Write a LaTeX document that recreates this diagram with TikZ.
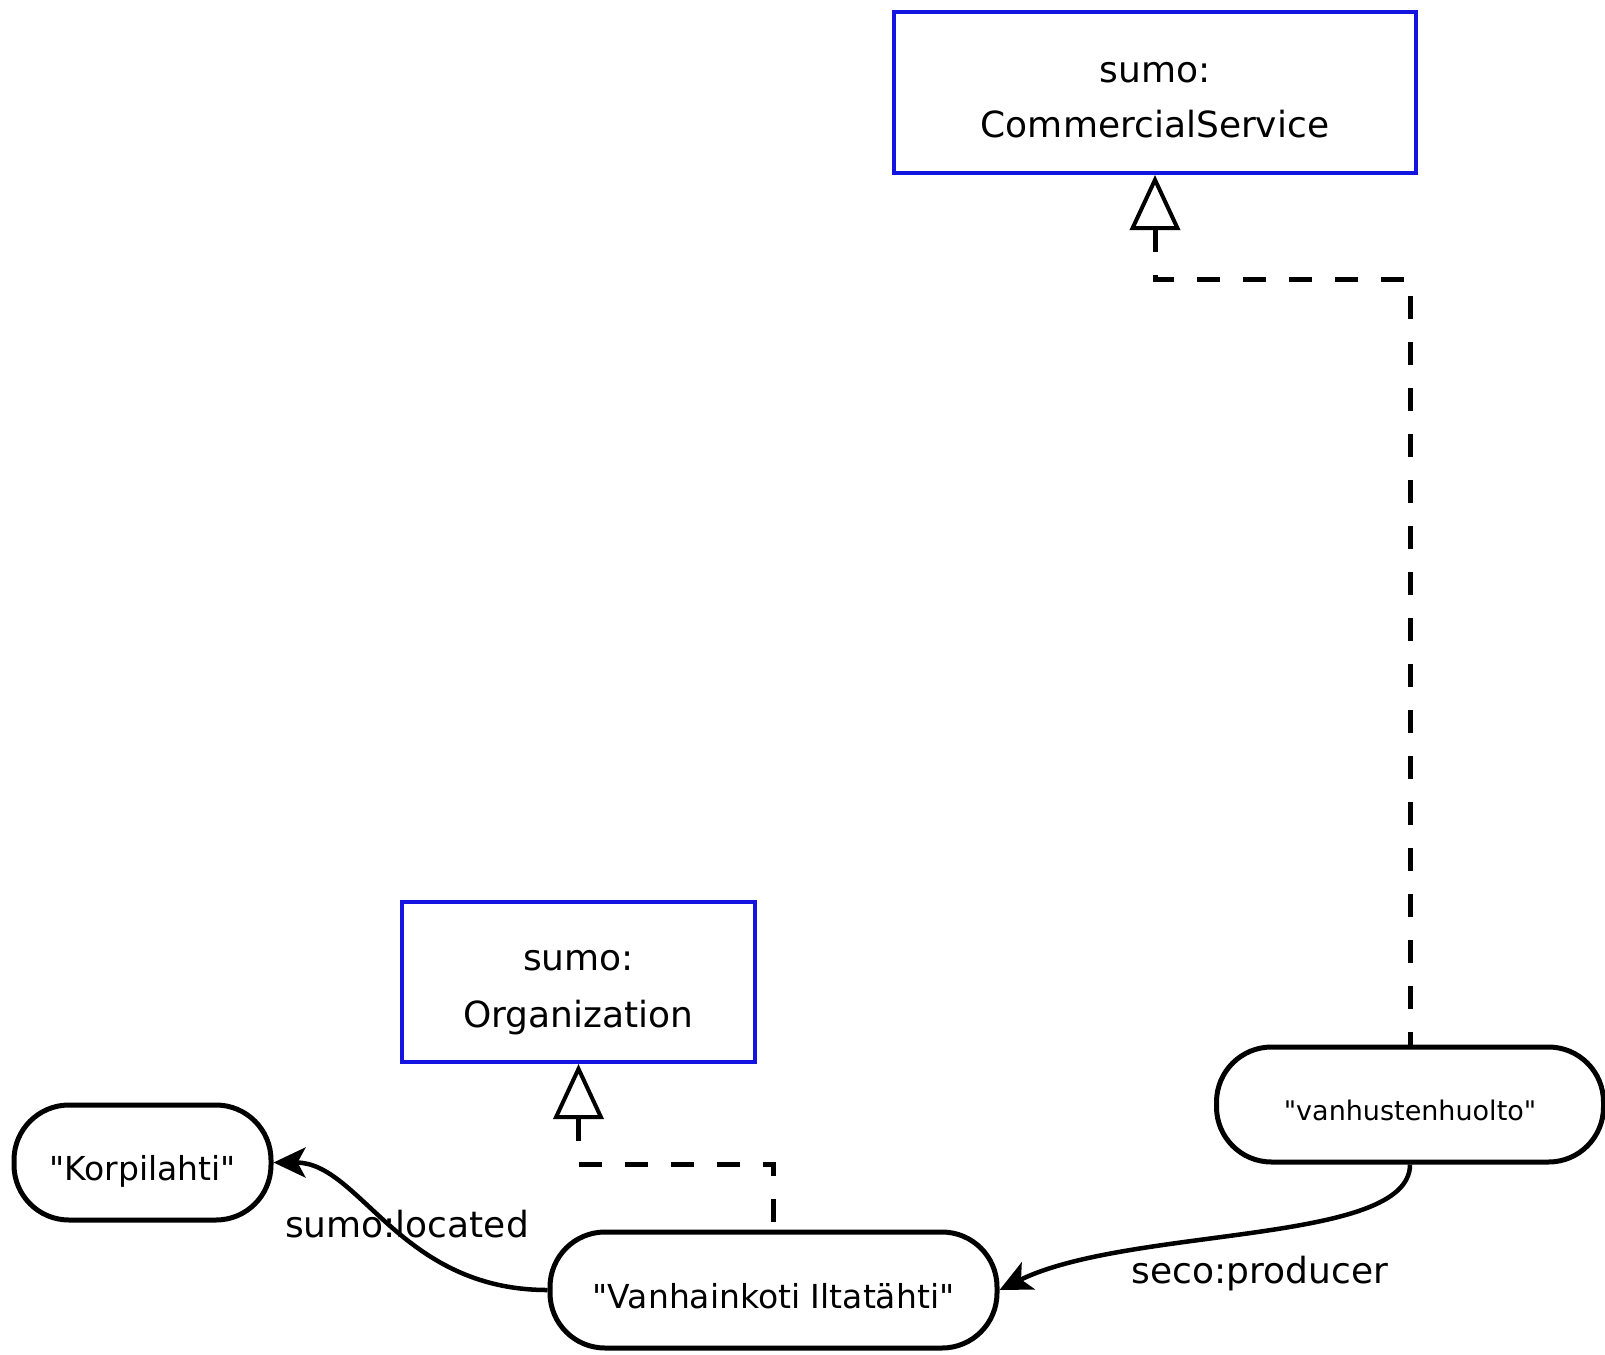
\documentclass[tikz,border=0pt]{standalone}
\usepackage{fontspec}
\setmainfont{DejaVu Sans}
\usetikzlibrary{arrows.meta}
\definecolor{boxblue}{RGB}{20,20,225}
\begin{document}
\begin{tikzpicture}[x=1pt,y=-1pt,
  classbox/.style={draw=boxblue, line width=4pt, fill=white, inner sep=0pt},
  classtext/.style={inner sep=0pt, font=\fontsize{36}{43}\selectfont},
  stadium/.style={draw=black, line width=5pt, rounded corners=55pt, inner sep=0pt,
    text height=36pt, text depth=0pt, font=\fontsize{33}{40}\selectfont},
  lbl/.style={inner sep=0pt, font=\fontsize{36}{43}\selectfont},
  subclass/.style={draw=black, line width=5pt, dash pattern=on 23pt off 23pt,
    {Triangle[open,length=55pt,width=50pt,line width=4pt]}-},
  rel/.style={draw=black, line width=4.5pt,
    -{Stealth[length=32pt,width=30pt,inset=8pt]}}]
\useasboundingbox (0,0) rectangle (1605,1354);
\fill[white] (0,0) rectangle (1605,1354);

% class boxes
\node[classbox, minimum width=522pt, minimum height=161pt] (cs) at (1155,92.5) {};
\node[classtext, anchor=base] (cs1) at (1155,82) {sumo:};
\node[classtext, anchor=base] (cs2) at (1155,137) {CommercialService};

\node[classbox, minimum width=353pt, minimum height=160pt] (org) at (578.5,982) {};
\node[classtext, anchor=base] (org1) at (578.5,970) {sumo:};
\node[classtext, anchor=base] (org2) at (578.5,1027) {Organization};

% instance nodes
\node[stadium, minimum width=257pt, minimum height=115pt] (korp) at (142.5,1162.5) {\textquotedbl Korpilahti\textquotedbl};
\node[stadium, minimum width=447pt, minimum height=116pt] (vanh) at (773.5,1290) {\textquotedbl Vanhainkoti Iltatähti\textquotedbl};
\node[stadium, minimum width=387pt, minimum height=115pt, text height=32pt,
  font=\fontsize{27}{33}\selectfont] (vanhu) at (1410,1104.5) {\textquotedbl vanhustenhuolto\textquotedbl};

% subclass connectors
\draw[subclass] (cs.south) -- ++(0,104) -| (vanhu.north);
\draw[subclass] (org.south) -- ++(0,100) -| (vanh.north);

% relations
\draw[rel] (vanh.west) .. controls (400,1290) and (360,1162.5) .. (korp.east);
\draw[rel] (vanhu.south) .. controls (1410,1245) and (1130,1226) .. (vanh.east);

\node[lbl, anchor=base] (l1) at (407,1237) {sumo:located};
\node[lbl, anchor=base] (l2) at (1260,1283) {seco:producer};
\end{tikzpicture}
\end{document}
